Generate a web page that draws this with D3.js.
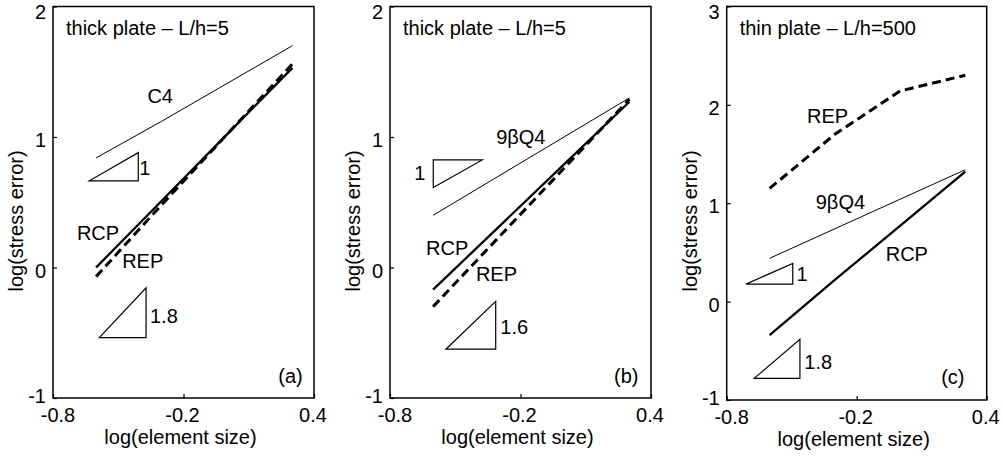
<!DOCTYPE html>
<html>
<head>
<meta charset="utf-8">
<script src="https://cdn.jsdelivr.net/npm/d3@7"></script>
<style>
  body { margin: 0; background: #fff; }
  text { font-family: "Liberation Sans", Arial, Helvetica, sans-serif; font-size: 20px; fill: #000; }
</style>
</head>
<body>
<div id="chart-area"></div>
<script>
// log10 of element size (mesh 4, 8, 16, 32 ...)
const logSize = [-0.602, -0.301, 0, 0.301]

// panel (a) thick plate L/h=5
const c4A = [0.84, 1.12, 1.41, 1.70]
const rcpA = [0.00, 0.51, 1.02, 1.53]
const repA = [-0.07, 0.48, 1.02, 1.56]

// panel (b) thick plate L/h=5
const q4B = [0.40, 0.70, 1.00, 1.30]
const rcpB = [-0.17, 0.31, 0.79, 1.27]
const repB = [-0.30, 0.23, 0.76, 1.29]

// panel (c) thin plate L/h=500
const repC = [1.15, 1.70, 2.14, 2.30]
const q4C = [0.44, 0.74, 1.04, 1.34]
const rcpC = [-0.34, 0.22, 0.77, 1.32]

// slope triangles (data coords)
const triA1 = [[-0.633, 0.664], [-0.408, 0.664], [-0.408, 0.880]]
const triA2 = [[-0.587, -0.537], [-0.372, -0.537], [-0.372, -0.155]]
const triB1 = [[-0.601, 0.613], [-0.601, 0.824], [-0.376, 0.824]]
const triB2 = [[-0.543, -0.626], [-0.314, -0.626], [-0.314, -0.260]]
const triC1 = [[-0.711, 0.178], [-0.495, 0.178], [-0.495, 0.388]]
const triC2 = [[-0.673, -0.780], [-0.462, -0.780], [-0.462, -0.384]]

// text annotations [x, y, text] in data coords
const notesA = [[-0.366, 1.257, "C4"], [-0.404, 0.709, "1"], [-0.690, 0.211, "RCP"], [-0.482, 0.0, "REP"], [-0.354, -0.429, "1.8"], [0.236, -0.885, "(a)"]]
const notesB = [[-0.312, 0.950, "9βQ4"], [-0.688, 0.670, "1"], [-0.634, 0.096, "RCP"], [-0.405, -0.103, "REP"], [-0.293, -0.506, "1.6"], [0.230, -0.885, "(b)"]]
const notesC = [[-0.429, 1.810, "REP"], [-0.389, 0.936, "9βQ4"], [-0.066, 0.413, "RCP"], [-0.478, 0.209, "1"], [-0.442, -0.680, "1.8"], [0.190, -0.837, "(c)"]]

const xTicks = [-0.8, -0.2, 0.4]
const xTickLabels = ["-0.8", "-0.2", "0.4"]
const yTicksAB = [-1, 0, 1, 2]
const yTicksC = [-1, 0, 1, 2, 3]

const THIN = { width: 1, dash: null }
const SOLID = { width: 2.3, dash: null }
const DASH = { width: 3, dash: "9,5" }

const panels = [
  { left: 53, right: 314, top: 6.5, bottom: 398, yDomain: [-1, 2], yTicks: yTicksAB,
    title: "thick plate – L/h=5",
    series: [[c4A, THIN], [rcpA, SOLID], [repA, DASH]], tris: [triA1, triA2], notes: notesA },
  { left: 390, right: 651, top: 6.5, bottom: 398, yDomain: [-1, 2], yTicks: yTicksAB,
    title: "thick plate – L/h=5",
    series: [[q4B, THIN], [rcpB, SOLID], [repB, DASH]], tris: [triB1, triB2], notes: notesB },
  { left: 726.7, right: 986.7, top: 6.4, bottom: 400, yDomain: [-1, 3], yTicks: yTicksC,
    title: "thin plate – L/h=500",
    series: [[repC, DASH], [q4C, THIN], [rcpC, SOLID]], tris: [triC1, triC2], notes: notesC }
]

const svg = d3.select("#chart-area").append("svg")
    .attr("width", 1002)
    .attr("height", 456)

panels.forEach(p => {
  const x = d3.scaleLinear().domain([-0.8, 0.4]).range([p.left, p.right])
  const y = d3.scaleLinear().domain(p.yDomain).range([p.bottom, p.top])
  const g = svg.append("g")

  // Axes (ticks point inward, labels drawn by hand below)
  g.append("g")
    .attr("transform", `translate(0, ${p.bottom})`)
    .call(d3.axisTop(x).tickValues(xTicks).tickSize(4).tickFormat(""))
    .call(a => a.select(".domain").remove())
  g.append("g")
    .attr("transform", `translate(${p.left}, 0)`)
    .call(d3.axisRight(y).tickValues(p.yTicks).tickSize(4).tickFormat(""))
    .call(a => a.select(".domain").remove())
  g.selectAll(".tick line").attr("stroke", "#000").attr("stroke-width", 1.2)

  g.append("rect")
    .attr("x", p.left).attr("y", p.top)
    .attr("width", p.right - p.left).attr("height", p.bottom - p.top)
    .attr("fill", "none").attr("stroke", "#000").attr("stroke-width", 1.5)

  // tick labels
  g.selectAll(".xl").data(xTicks).enter().append("text")
    .attr("x", (d, i) => x(d) + (i === 0 ? 5 : -1))
    .attr("y", p.bottom + 24)
    .attr("text-anchor", "middle")
    .text((d, i) => xTickLabels[i])
  g.selectAll(".yl").data(p.yTicks).enter().append("text")
    .attr("x", p.left - 7)
    .attr("y", d => Math.max(Math.min(y(d) + 10, p.bottom + 5), 19))
    .attr("text-anchor", "end")
    .text(d => d)

  // axis titles
  g.append("text")
    .attr("x", (p.left + p.right) / 2 - 3)
    .attr("y", p.bottom + 45.5)
    .attr("text-anchor", "middle")
    .text("log(element size)")
  g.append("text")
    .attr("transform", `translate(${p.left - 37}, 221) rotate(-90)`)
    .attr("text-anchor", "middle")
    .attr("dominant-baseline", "central")
    .text("log(stress error)")

  g.append("text")
    .attr("x", p.left + 13)
    .attr("y", 34.5)
    .text(p.title)

  // curves
  const line = d3.line().x(d => x(d[0])).y(d => y(d[1]))
  p.series.forEach(([vals, st]) => {
    g.append("path")
      .datum(logSize.map((s, i) => [s, vals[i]]))
      .attr("d", line)
      .attr("fill", "none")
      .attr("stroke", "#000")
      .attr("stroke-width", st.width)
      .attr("stroke-dasharray", st.dash)
  })

  // slope triangles
  p.tris.forEach(t => {
    g.append("path")
      .datum(t)
      .attr("d", d => line(d) + "Z")
      .attr("fill", "none")
      .attr("stroke", "#000")
      .attr("stroke-width", 1.2)
  })

  // annotations
  g.selectAll(".note").data(p.notes).enter().append("text")
    .attr("x", d => x(d[0]))
    .attr("y", d => y(d[1]))
    .text(d => d[2])
})
</script>
</body>
</html>
